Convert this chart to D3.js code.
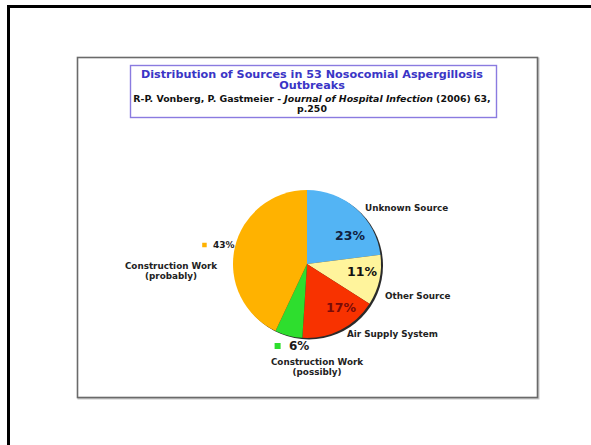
<!DOCTYPE html>
<html>
<head>
<meta charset="utf-8">
<script src="https://cdn.jsdelivr.net/npm/d3@7"></script>
<style>
  body { margin: 0; background: #fff; }
  svg text { font-family: "DejaVu Sans", Verdana, sans-serif; font-weight: bold; }
</style>
</head>
<body>
<svg id="chart" width="591" height="445"></svg>
<script>
// data
const sources = ["Unknown Source", "Other Source", "Air Supply System", "Construction Work (possibly)", "Construction Work (probably)"];
const shares = [23, 11, 17, 6, 43];
const sliceColors = ["#53b4f4", "#fff49c", "#f83200", "#2ede2e", "#ffb200"];
const titleLines = ["Distribution of Sources in 53 Nosocomial Aspergillosis", "Outbreaks"];

// label layout, offsets from the pie centre
const nameLayout = [
  { lines: ["Unknown Source"], dx: 58, dy: -56, anchor: "start" },
  { lines: ["Other Source"], dx: 78, dy: 32, anchor: "start" },
  { lines: ["Air Supply System"], dx: 40, dy: 70, anchor: "start" },
  { lines: ["Construction Work", "(possibly)"], dx: 10, dy: 98, anchor: "middle" },
  { lines: ["Construction Work", "(probably)"], dx: -136, dy: 2, anchor: "middle" }
];
const pctLayout = [
  { dx: 43, dy: -29, size: 12.5, fill: "#10213f", key: false },
  { dx: 55, dy: 7, size: 12.5, fill: "#111", key: false },
  { dx: 34, dy: 43, size: 12.5, fill: "#7a0b08", key: false },
  { dx: -18, dy: 82, size: 12, fill: "#1a1a1a", key: true },
  { dx: -94, dy: -19, size: 9, fill: "#1a1a1a", key: true }
];

const svg = d3.select("#chart");

// slide frame
svg.append("rect")
  .attr("x", 8.5).attr("y", 6.5)
  .attr("width", 700).attr("height", 600)
  .attr("fill", "none").attr("stroke", "#000").attr("stroke-width", 3);

// chart area
svg.append("rect")
  .attr("x", 78.5).attr("y", 58.5)
  .attr("width", 460).attr("height", 340)
  .attr("fill", "none").attr("stroke", "#c8c8c8").attr("stroke-width", 2);
svg.append("rect")
  .attr("x", 77.5).attr("y", 57.5)
  .attr("width", 460).attr("height", 340)
  .attr("fill", "#fff").attr("stroke", "#6a6a6a").attr("stroke-width", 1.6);

// title box
svg.append("rect")
  .attr("x", 130.5).attr("y", 65.5)
  .attr("width", 366).attr("height", 52)
  .attr("fill", "#fff").attr("stroke", "#8a7be0").attr("stroke-width", 1.4);

const tx = 312;
svg.append("g")
  .selectAll("text")
  .data(titleLines)
  .join("text")
  .attr("x", tx)
  .attr("y", (d, i) => 77.5 + i * 11.5)
  .attr("text-anchor", "middle")
  .attr("font-size", 11.2)
  .attr("fill", "#3a35c6")
  .text(d => d);

const cite = svg.append("text")
  .attr("x", tx).attr("y", 101.5)
  .attr("text-anchor", "middle")
  .attr("font-size", 9.4)
  .attr("fill", "#111");
cite.append("tspan").text("R-P. Vonberg, P. Gastmeier - ");
cite.append("tspan").attr("font-style", "italic").text("Journal of Hospital Infection");
cite.append("tspan").text(" (2006) 63,");
svg.append("text")
  .attr("x", tx).attr("y", 111.5)
  .attr("text-anchor", "middle")
  .attr("font-size", 9.4)
  .attr("fill", "#111")
  .text("p.250");

// pie
const cx = 307, cy = 264, r = 74;
const pie = d3.pie().sort(null).value(d => d)(shares);
const arc = d3.arc().innerRadius(0).outerRadius(r);

const g = svg.append("g").attr("transform", `translate(${cx},${cy})`);

// shadow edge
g.append("circle")
  .attr("cx", 2).attr("cy", 1.5).attr("r", r)
  .attr("fill", "#2a2a2a");

g.selectAll("path.slice")
  .data(pie)
  .join("path")
  .attr("class", "slice")
  .attr("d", arc)
  .attr("fill", d => sliceColors[d.index]);

// percent labels
const pctG = g.selectAll("g.pct")
  .data(pie)
  .join("g")
  .attr("class", "pct")
  .attr("transform", d => `translate(${pctLayout[d.index].dx},${pctLayout[d.index].dy})`);

pctG.append("text")
  .attr("text-anchor", d => pctLayout[d.index].key ? "start" : "middle")
  .attr("dy", "0.36em")
  .attr("font-size", d => pctLayout[d.index].size)
  .attr("fill", d => pctLayout[d.index].fill)
  .text(d => d.data + "%");

pctG.filter(d => pctLayout[d.index].key)
  .append("rect")
  .attr("x", d => -pctLayout[d.index].size * 1.2)
  .attr("y", d => -pctLayout[d.index].size * 0.25)
  .attr("width", d => pctLayout[d.index].size * 0.5)
  .attr("height", d => pctLayout[d.index].size * 0.5)
  .attr("fill", d => sliceColors[d.index]);

// category labels
const nameG = g.selectAll("text.name")
  .data(pie)
  .join("text")
  .attr("class", "name")
  .attr("x", d => nameLayout[d.index].dx)
  .attr("y", d => nameLayout[d.index].dy)
  .attr("text-anchor", d => nameLayout[d.index].anchor)
  .attr("font-size", 8.8)
  .attr("fill", "#222");

nameG.selectAll("tspan")
  .data(d => nameLayout[d.index].lines)
  .join("tspan")
  .attr("x", function () { return d3.select(this.parentNode).attr("x"); })
  .attr("dy", (d, j) => j === 0 ? "0.36em" : "1.15em")
  .text(d => d);
</script>
</body>
</html>
